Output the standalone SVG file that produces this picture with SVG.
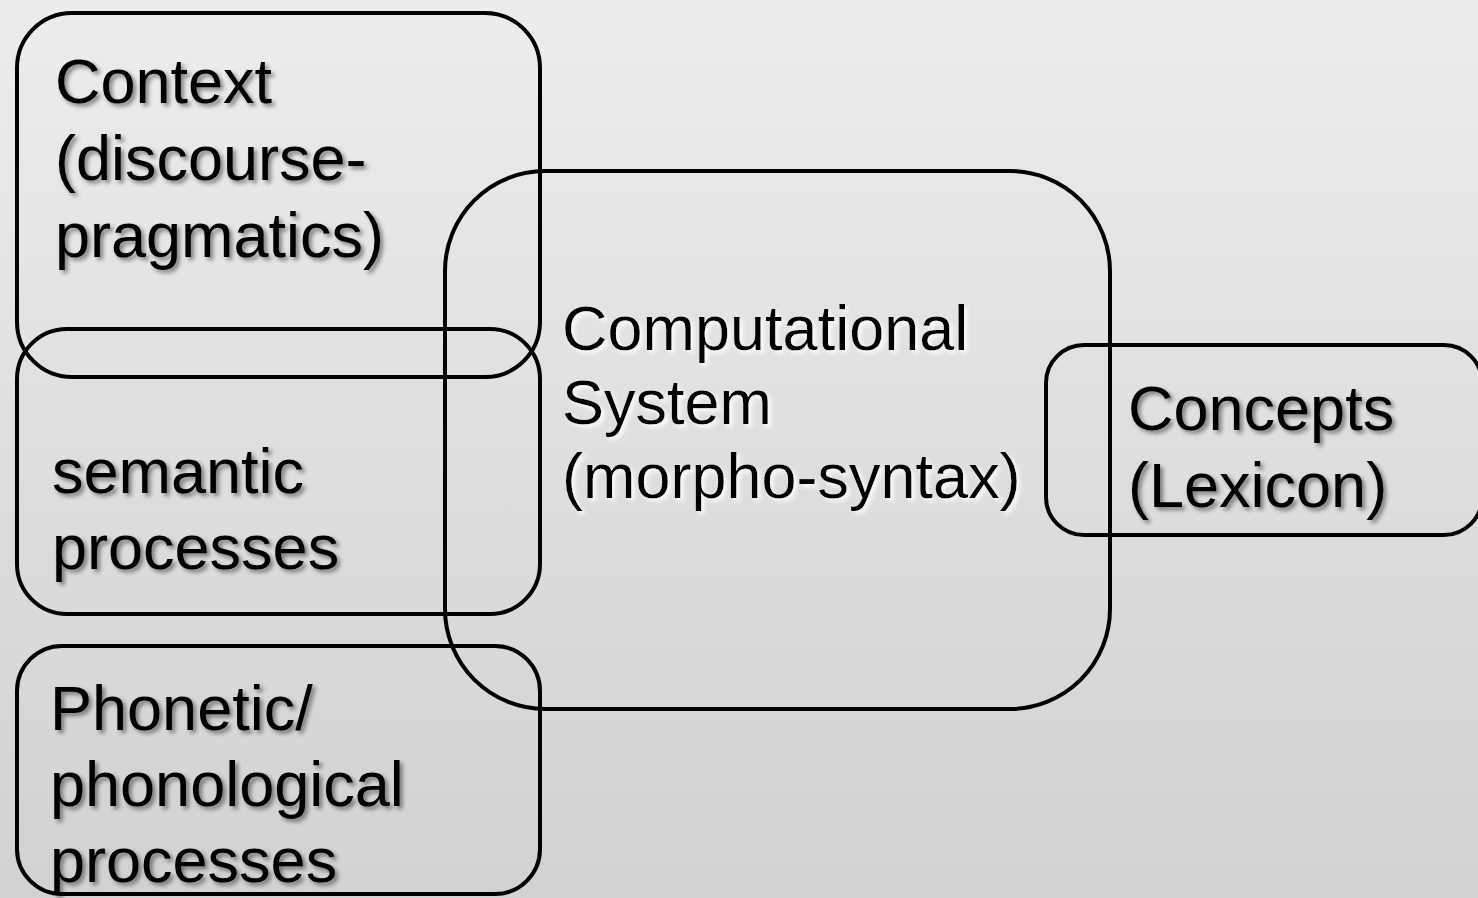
<svg xmlns="http://www.w3.org/2000/svg" width="1478" height="898" viewBox="0 0 1478 898">
<defs>
<linearGradient id="bg" x1="0" y1="0" x2="0" y2="1">
<stop offset="0" stop-color="#ededed"/>
<stop offset="0.6" stop-color="#dcdcdc"/>
<stop offset="1" stop-color="#d2d2d2"/>
</linearGradient>
<filter id="sh" x="-10%" y="-20%" width="130%" height="160%">
<feDropShadow dx="3" dy="3" stdDeviation="2" flood-color="#000" flood-opacity="0.45"/>
</filter>
<filter id="glow" x="-10%" y="-20%" width="130%" height="160%">
<feDropShadow dx="3" dy="3" stdDeviation="2" flood-color="#fff" flood-opacity="0.9"/>
</filter>
</defs>
<style>
.box{fill:none;stroke:#000;stroke-width:4}
.t{font-family:"Liberation Sans",Arial,sans-serif;font-size:63px;fill:#000;filter:url(#sh)}
.tw{font-family:"Liberation Sans",Arial,sans-serif;font-size:63px;fill:#000;filter:url(#glow)}
</style>
<rect width="1478" height="898" fill="url(#bg)"/>
<g id="context">
<rect class="box" x="17" y="13" width="523" height="364" rx="55"/>
<text class="t" x="55" y="103">Context</text>
<text class="t" x="55" y="180">(discourse-</text>
<text class="t" x="55" y="257">pragmatics)</text>
</g>
<g id="semantic">
<rect class="box" x="17" y="329" width="523" height="285" rx="50"/>
<text class="t" x="52" y="493">semantic</text>
<text class="t" x="52" y="569">processes</text>
</g>
<g id="phonetic">
<rect class="box" x="17" y="646" width="523" height="248" rx="45"/>
<text class="t" x="50" y="730">Phonetic/</text>
<text class="t" x="50" y="806">phonological</text>
<text class="t" x="50" y="882">processes</text>
</g>
<g id="computational">
<rect class="box" x="445" y="171" width="665" height="538" rx="100"/>
<text class="tw" x="562" y="350">Computational</text>
<text class="tw" x="562" y="424">System</text>
<text class="tw" x="562" y="498">(morpho-syntax)</text>
</g>
<g id="concepts">
<rect class="box" x="1046" y="345" width="436" height="190" rx="38"/>
<text class="t" x="1128" y="430">Concepts</text>
<text class="t" x="1128" y="507">(Lexicon)</text>
</g>
<g id="connectors"></g>
</svg>
